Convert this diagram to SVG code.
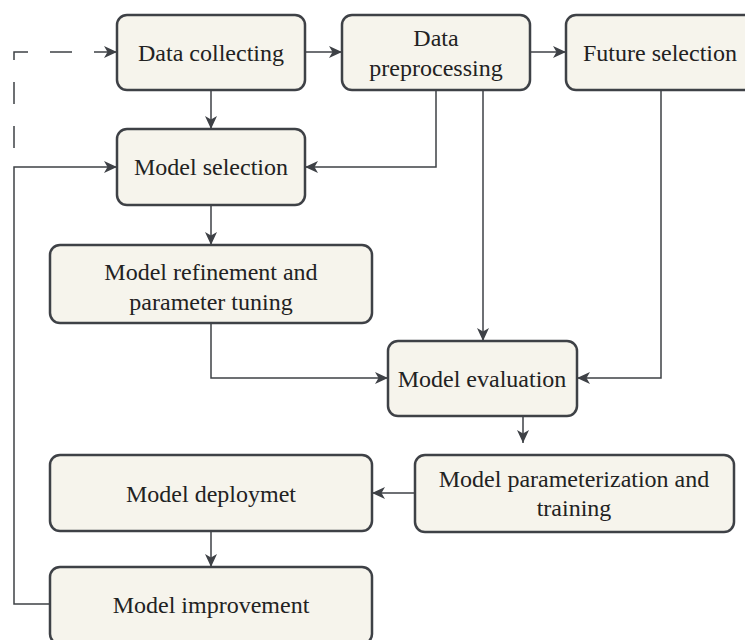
<svg xmlns="http://www.w3.org/2000/svg" width="745" height="640" viewBox="0 0 745 640">
<style>
.box{fill:#f6f4ec;stroke:#3e4146;stroke-width:2.5}
.lbl{font-family:'Liberation Serif', 'Tinos', 'Times New Roman', 'DejaVu Serif', serif;font-size:24px;fill:#222;text-anchor:middle}
.ln{fill:none;stroke:#3e4146;stroke-width:1.5;marker-end:url(#ah)}
.dash{stroke-dasharray:22 22}
</style>
<defs>
<marker id="ah" markerUnits="userSpaceOnUse" markerWidth="14" markerHeight="12" refX="13" refY="6" orient="auto">
<path d="M0,0 L13,6 L0,12 L3.5,6 z" fill="#3e4146"/>
</marker>
</defs>
<rect width="745" height="640" fill="#ffffff"/>
<g id="connectors">
<path class="ln dash" d="M14,148 V52 H117"/>
<path class="ln" d="M305,52 H342"/>
<path class="ln" d="M530,52 H566"/>
<path class="ln" d="M211,90 V129"/>
<path class="ln" d="M436,90 V167 H305"/>
<path class="ln" d="M483,90 V341"/>
<path class="ln" d="M661,90 V378 H577"/>
<path class="ln" d="M211,205 V245"/>
<path class="ln" d="M211,323 V378 H388"/>
<path class="ln" d="M523,416 V443"/>
<path class="ln" d="M415,493 H372"/>
<path class="ln" d="M211,531 V567"/>
<path class="ln" d="M50,604 H14 V167 H117"/>
</g>
<g id="data-collecting">
<rect class="box" x="117" y="15" width="188" height="75" rx="10"/>
<text class="lbl" x="211" y="61" font-family="Liberation Serif">Data collecting</text>
</g>
<g id="data-preprocessing">
<rect class="box" x="342" y="15" width="188" height="75" rx="10"/>
<text class="lbl" x="436" y="46">Data</text>
<text class="lbl" x="436" y="76">preprocessing</text>
</g>
<g id="future-selection">
<rect class="box" x="566" y="15" width="200" height="75" rx="10"/>
<text class="lbl" x="660" y="61">Future selection</text>
</g>
<g id="model-selection">
<rect class="box" x="117" y="129" width="188" height="76" rx="10"/>
<text class="lbl" x="211" y="175">Model selection</text>
</g>
<g id="model-refinement">
<rect class="box" x="50" y="245" width="322" height="78" rx="10"/>
<text class="lbl" x="211" y="280">Model refinement and</text>
<text class="lbl" x="211" y="310">parameter tuning</text>
</g>
<g id="model-evaluation">
<rect class="box" x="388" y="341" width="189" height="75" rx="10"/>
<text class="lbl" x="482" y="387">Model evaluation</text>
</g>
<g id="model-parameterization">
<rect class="box" x="415" y="455" width="319" height="77" rx="10"/>
<text class="lbl" x="574" y="487">Model parameterization and</text>
<text class="lbl" x="574" y="516">training</text>
</g>
<g id="model-deployment">
<rect class="box" x="50" y="455" width="322" height="76" rx="10"/>
<text class="lbl" x="211" y="502">Model deploymet</text>
</g>
<g id="model-improvement">
<rect class="box" x="50" y="567" width="322" height="77" rx="10"/>
<text class="lbl" x="211" y="613">Model improvement</text>
</g>
</svg>
